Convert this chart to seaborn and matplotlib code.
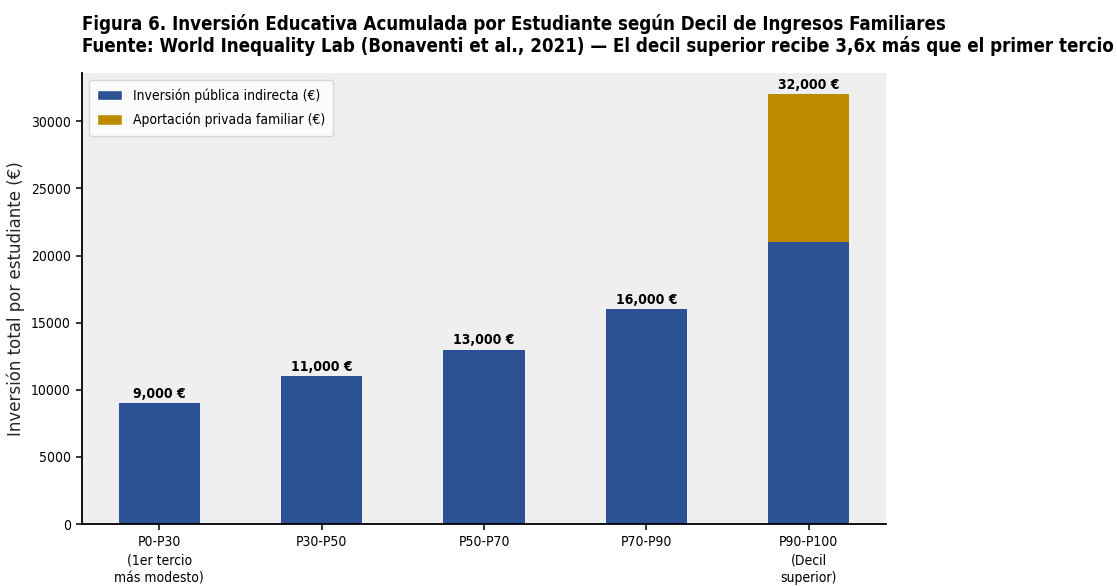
import matplotlib
matplotlib.use("Agg")
import matplotlib.pyplot as plt
import seaborn as sns
import pandas as pd
from matplotlib.patches import Patch

# Data
categories = [
    "P0-P30\n(1er tercio\nmás modesto)",
    "P30-P50",
    "P50-P70",
    "P70-P90",
    "P90-P100\n(Decil\nsuperior)",
]
public_investment = [9000, 11000, 13000, 16000, 21000]
private_contribution = [0, 0, 0, 0, 11000]
yticks = [0, 5000, 10000, 15000, 20000, 25000, 30000]
legend_labels = ["Inversión pública indirecta (€)", "Aportación privada familiar (€)"]
ylabel_text = "Inversión total por estudiante (€)"
title_text = (
    "Figura 6. Inversión Educativa Acumulada por Estudiante según Decil de Ingresos Familiares\n"
    "Fuente: World Inequality Lab (Bonaventi et al., 2021) — El decil superior recibe 3,6x más que el primer tercio"
)

BLUE = "#2c5195"
GOLD = "#bd8b00"
BG = "#efefef"

sns.set_theme(style="ticks", rc={
    "axes.facecolor": BG,
    "axes.edgecolor": "black",
    "axes.linewidth": 1.3,
    "xtick.color": "black",
    "ytick.color": "black",
    "text.color": "black",
})
plt.rcParams["font.family"] = ["DejaVu Sans"]
plt.rcParams["font.stretch"] = "condensed"

df = pd.DataFrame({
    "decil": categories,
    "publica": public_investment,
    "privada": private_contribution,
})
df["total"] = df["publica"] + df["privada"]

fig = plt.figure(figsize=(11.17, 5.86), dpi=100)
ax = fig.add_axes([82 / 1117, 1 - 524 / 586, (886 - 82) / 1117, (524 - 73) / 586])

# stacked bars: full height in gold, public share overlaid in blue
sns.barplot(data=df, x="decil", y="total", order=categories, color=GOLD,
            saturation=1, width=0.5, linewidth=0, ax=ax)
sns.barplot(data=df, x="decil", y="publica", order=categories, color=BLUE,
            saturation=1, width=0.5, linewidth=0, ax=ax)

ax.set_xlim(-0.475, 4.475)
ax.set_ylim(0, max(df["total"]) * 1.05)
ax.set_yticks(yticks)
ax.set_yticklabels([str(v) for v in yticks], fontsize=10)
ax.set_xticks(range(len(categories)))
ax.set_xticklabels(categories, fontsize=10, linespacing=1.36)
ax.set_xlabel("")
ax.set_ylabel(ylabel_text, fontsize=12, fontstretch="normal", labelpad=4.5)
sns.despine(ax=ax)
ax.tick_params(axis="both", length=4.5, width=1.1)

for i, total in enumerate(df["total"]):
    ax.annotate(f"{total:,} €", (i, total), xytext=(0, 1.5),
                textcoords="offset points", ha="center", va="bottom",
                fontsize=10, fontweight="bold")

handles = [
    Patch(facecolor=BLUE, label=legend_labels[0]),
    Patch(facecolor=GOLD, label=legend_labels[1]),
]
ax.legend(handles=handles, loc="upper left", fontsize=10, handlelength=1.75,
          handleheight=0.75, handletextpad=0.8, borderpad=0.6,
          labelspacing=0.72, borderaxespad=0.5, frameon=True,
          facecolor="white", framealpha=0.8, edgecolor="#d0d0d0")

ax.set_title(title_text, loc="left", fontsize=13.4, fontweight="bold",
             pad=15, linespacing=1.12)

fig.savefig("out.png", dpi=100)
